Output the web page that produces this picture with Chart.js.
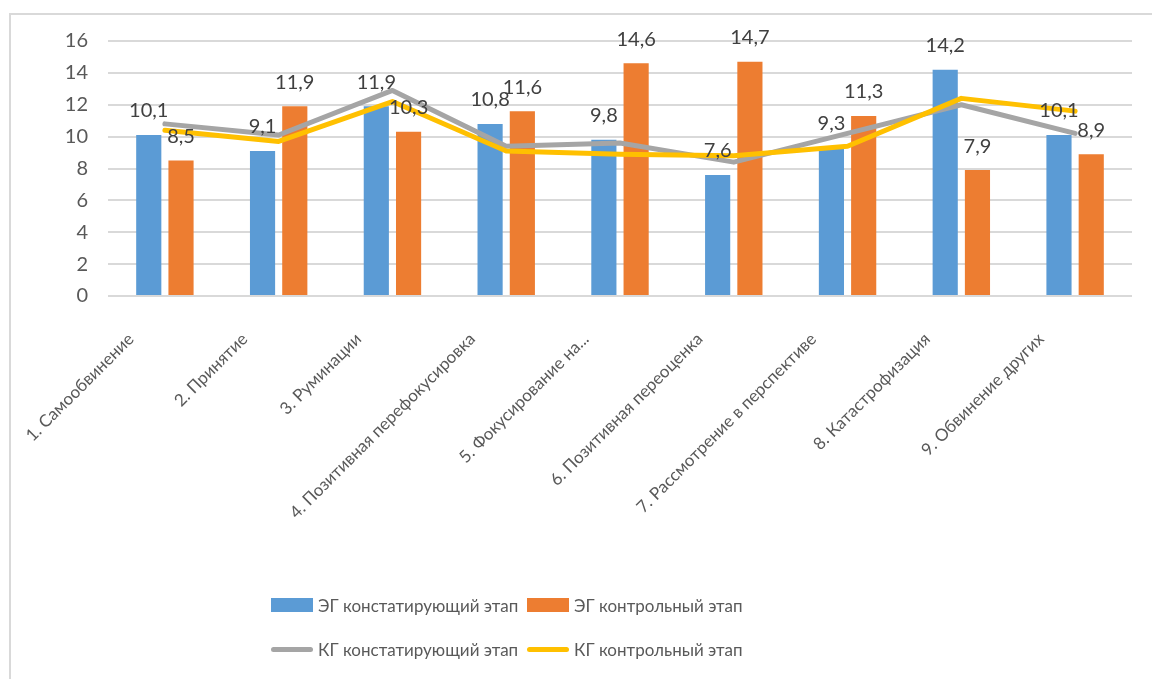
<!DOCTYPE html>
<html><head><meta charset="utf-8">
<script src="https://cdn.jsdelivr.net/npm/chart.js@4.4.1/dist/chart.umd.min.js"></script>
<style>
html,body{margin:0;padding:0;background:#fff;width:1152px;height:679px;overflow:hidden;}
#wrap{position:relative;width:1152px;height:679px;}
#frame{position:absolute;left:9px;top:13px;width:1200px;height:700px;border-left:2px solid #d9d9d9;border-top:2px solid #d9d9d9;}
canvas{position:absolute;left:0;top:0;}
#legend{position:absolute;left:271px;top:590px;display:grid;grid-template-columns:256px 256px;row-gap:14px;}
.item{display:flex;align-items:center;height:30px;font:17px Lato, sans-serif;color:#595959;white-space:nowrap;}
.sw{width:42px;height:14px;margin-right:5px;flex:none;}
.ln{width:42px;height:5px;border-radius:3px;margin-right:5px;flex:none;}
</style></head>
<body><div id="wrap"><div id="frame"></div><canvas id="c" width="1152" height="679"></canvas><div id="legend"></div></div>
<script>
const categories = ["1. Самообвинение","2. Принятие","3. Руминации","4. Позитивная перефокусировка","5. Фокусирование на...","6. Позитивная переоценка","7. Рассмотрение в перспективе","8. Катастрофизация","9. Обвинение других"];
const seriesNames = ["ЭГ констатирующий этап","ЭГ контрольный этап","КГ констатирующий этап","КГ контрольный этап"];
const egConst   = [10.1, 9.1, 11.9, 10.8, 9.8, 7.6, 9.3, 14.2, 10.1];
const egControl = [8.5, 11.9, 10.3, 11.6, 14.6, 14.7, 11.3, 7.9, 8.9];
const kgConst   = [10.8, 10.1, 12.9, 9.4, 9.6, 8.4, 10.2, 12.0, 10.2];
const kgControl = [10.4, 9.7, 12.2, 9.1, 8.9, 8.8, 9.4, 12.4, 11.6];
const yMin = 0, yMax = 16, yStep = 2;

const FONT = 'Lato';
Chart.defaults.font.family = FONT;

const barLabels = {
  id: 'barLabels',
  afterDatasetsDraw(chart) {
    const ctx = chart.ctx;
    ctx.save();
    ctx.font = '20px ' + FONT;
    ctx.fillStyle = '#404040';
    ctx.textAlign = 'center';
    ctx.textBaseline = 'middle';
    [0, 1].forEach(di => {
      const meta = chart.getDatasetMeta(di);
      meta.data.forEach((el, i) => {
        const v = chart.data.datasets[di].data[i];
        ctx.fillText(v.toFixed(1).replace('.', ','), el.x, el.y - 24);
      });
    });
    ctx.restore();
  }
};

const chart = new Chart(document.getElementById('c'), {
  data: {
    labels: categories,
    datasets: [
      { type: 'bar', label: seriesNames[0], data: egConst, backgroundColor: '#5B9BD5', order: 3,
        categoryPercentage: 0.567, barPercentage: 0.78 },
      { type: 'bar', label: seriesNames[1], data: egControl, backgroundColor: '#ED7D31', order: 4,
        categoryPercentage: 0.567, barPercentage: 0.78 },
      { type: 'line', label: seriesNames[2], data: kgConst, borderColor: '#A5A5A5', backgroundColor: '#A5A5A5',
        borderWidth: 5, pointRadius: 0, tension: 0, borderJoinStyle: 'round', borderCapStyle: 'round', order: 2 },
      { type: 'line', label: seriesNames[3], data: kgControl, borderColor: '#FFC000', backgroundColor: '#FFC000',
        borderWidth: 5, pointRadius: 0, tension: 0, borderJoinStyle: 'round', borderCapStyle: 'round', order: 1 }
    ]
  },
  options: {
    responsive: false,
    animation: false,
    layout: { padding: { left: 10, right: 20, top: 41, bottom: 0 } },
    plugins: { legend: { display: false }, tooltip: { enabled: false } },
    scales: {
      x: {
        grid: { display: false, drawTicks: false },
        border: { display: false },
        ticks: { color: '#595959', font: { size: 17 }, minRotation: 45, maxRotation: 45, padding: 33, labelOffset: -34, autoSkip: false },
        afterFit(s) { s.height = 383; }
      },
      y: {
        min: yMin, max: yMax,
        grid: { color: '#D9D9D9', lineWidth: 2, drawTicks: false },
        border: { display: false },
        ticks: { stepSize: yStep, color: '#595959', font: { size: 20 }, padding: 20 },
        afterFit(s) { s.width = 98; }
      }
    }
  },
  plugins: [barLabels]
});

const lg = document.getElementById('legend');
chart.data.datasets.forEach(ds => {
  const it = document.createElement('div'); it.className = 'item';
  const sw = document.createElement('span'); sw.className = ds.type === 'bar' ? 'sw' : 'ln';
  sw.style.background = ds.type === 'bar' ? ds.backgroundColor : ds.borderColor;
  const tx = document.createElement('span'); tx.textContent = ds.label;
  it.appendChild(sw); it.appendChild(tx); lg.appendChild(it);
});
</script></body></html>
